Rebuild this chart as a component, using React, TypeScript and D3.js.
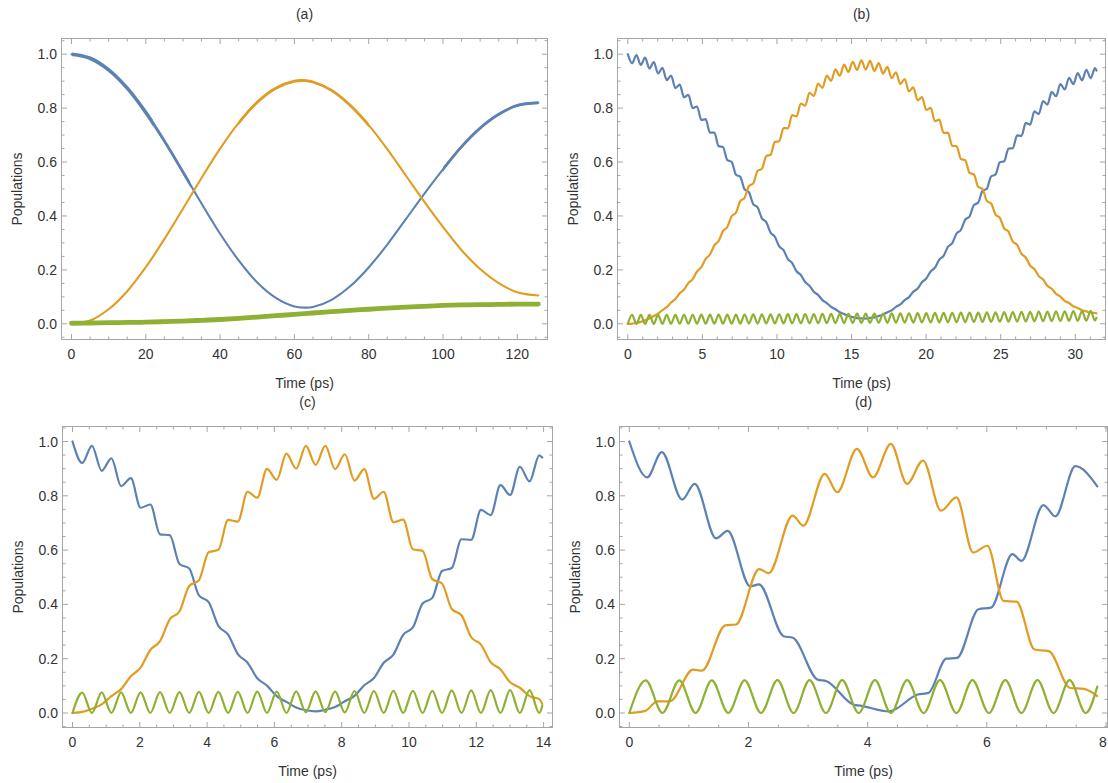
import React from "react";
import * as d3 from "d3";

const BLUE = "#5E81B5";
const ORANGE = "#E19C24";
const GREEN = "#8FB032";
const FONT = '"Liberation Sans", Arial, Helvetica, sans-serif';

// ---------- Panel (a) ----------
const tA = [0, 5, 10, 15, 20, 25, 30, 35, 40, 45, 50, 55, 60, 62.83, 65, 70, 75, 80, 85, 90, 95, 100, 105, 110, 115, 120, 125.66];
const blueA = [1.0, 0.985, 0.942, 0.874, 0.784, 0.678, 0.563, 0.446, 0.334, 0.235, 0.153, 0.096, 0.064, 0.06, 0.062, 0.089, 0.139, 0.209, 0.294, 0.388, 0.483, 0.573, 0.657, 0.726, 0.777, 0.81, 0.82];
const orangeA = [0, 0.012, 0.054, 0.121, 0.21, 0.314, 0.427, 0.541, 0.65, 0.745, 0.822, 0.874, 0.9, 0.902, 0.897, 0.866, 0.811, 0.737, 0.648, 0.55, 0.452, 0.359, 0.273, 0.203, 0.151, 0.117, 0.105];
const greenA = [0.002, 0.003, 0.004, 0.005, 0.006, 0.008, 0.01, 0.013, 0.016, 0.02, 0.025, 0.03, 0.035, 0.038, 0.04, 0.045, 0.05, 0.054, 0.058, 0.062, 0.065, 0.068, 0.07, 0.071, 0.072, 0.073, 0.073];

// ---------- Panel (b) ----------
const tB = [0, 0.29, 0.58, 0.87, 1.16, 1.45, 1.74, 2.03, 2.32, 2.61, 2.9, 3.19, 3.48, 3.77, 4.06, 4.35, 4.64, 4.93, 5.22, 5.51, 5.8, 6.09, 6.38, 6.67, 6.96, 7.25, 7.54, 7.83, 8.12, 8.41, 8.7, 8.99, 9.28, 9.57, 9.86, 10.15, 10.44, 10.73, 11.02, 11.31, 11.6, 11.89, 12.18, 12.47, 12.76, 13.05, 13.34, 13.63, 13.92, 14.21, 14.5, 14.79, 15.08, 15.37, 15.66, 15.95, 16.24, 16.53, 16.82, 17.11, 17.4, 17.69, 17.98, 18.27, 18.56, 18.85, 19.14, 19.43, 19.72, 20.01, 20.3, 20.59, 20.88, 21.17, 21.46, 21.75, 22.04, 22.33, 22.62, 22.91, 23.2, 23.49, 23.78, 24.07, 24.36, 24.65, 24.94, 25.23, 25.52, 25.81, 26.1, 26.39, 26.68, 26.97, 27.26, 27.55, 27.84, 28.13, 28.42, 28.71, 29.0, 29.29, 29.58, 29.87, 30.16, 30.45, 30.74, 31.03, 31.32, 31.42];
const blueB = [1.0, 0.966, 0.997, 0.96, 0.987, 0.947, 0.971, 0.929, 0.949, 0.904, 0.921, 0.874, 0.887, 0.84, 0.849, 0.8, 0.806, 0.756, 0.759, 0.709, 0.709, 0.659, 0.656, 0.607, 0.601, 0.553, 0.545, 0.499, 0.488, 0.444, 0.432, 0.391, 0.377, 0.338, 0.323, 0.287, 0.273, 0.24, 0.225, 0.195, 0.181, 0.155, 0.141, 0.119, 0.107, 0.088, 0.077, 0.063, 0.054, 0.043, 0.036, 0.029, 0.025, 0.021, 0.02, 0.019, 0.022, 0.024, 0.029, 0.034, 0.043, 0.05, 0.063, 0.072, 0.088, 0.099, 0.119, 0.131, 0.154, 0.168, 0.194, 0.208, 0.238, 0.252, 0.285, 0.299, 0.335, 0.348, 0.386, 0.398, 0.44, 0.45, 0.493, 0.501, 0.547, 0.553, 0.599, 0.603, 0.65, 0.651, 0.699, 0.697, 0.745, 0.739, 0.788, 0.778, 0.826, 0.813, 0.86, 0.844, 0.889, 0.869, 0.912, 0.889, 0.93, 0.903, 0.942, 0.911, 0.948, 0.939];
const orangeB = [0, 0.001, 0.003, 0.007, 0.013, 0.02, 0.029, 0.038, 0.051, 0.062, 0.079, 0.092, 0.113, 0.127, 0.151, 0.166, 0.194, 0.21, 0.241, 0.257, 0.291, 0.307, 0.344, 0.359, 0.399, 0.412, 0.455, 0.467, 0.511, 0.521, 0.567, 0.575, 0.622, 0.627, 0.675, 0.677, 0.726, 0.725, 0.774, 0.769, 0.817, 0.809, 0.857, 0.845, 0.891, 0.875, 0.921, 0.901, 0.944, 0.92, 0.961, 0.934, 0.972, 0.942, 0.977, 0.943, 0.975, 0.938, 0.967, 0.928, 0.953, 0.911, 0.933, 0.889, 0.908, 0.862, 0.877, 0.829, 0.841, 0.793, 0.801, 0.752, 0.757, 0.708, 0.709, 0.66, 0.659, 0.611, 0.607, 0.56, 0.554, 0.508, 0.5, 0.456, 0.446, 0.405, 0.393, 0.354, 0.342, 0.305, 0.293, 0.259, 0.246, 0.216, 0.203, 0.177, 0.164, 0.141, 0.13, 0.111, 0.101, 0.085, 0.077, 0.065, 0.059, 0.05, 0.046, 0.041, 0.04, 0.039];
const greenB = [0, 0.033, 0, 0.0331, 0, 0.0331, 0, 0.0332, 0.0001, 0.0333, 0.0001, 0.0334, 0.0001, 0.0335, 0.0002, 0.0336, 0.0003, 0.0338, 0.0003, 0.0339, 0.0004, 0.034, 0.0005, 0.0341, 0.0006, 0.0343, 0.0007, 0.0345, 0.0008, 0.0347, 0.0009, 0.0349, 0.0011, 0.0351, 0.0012, 0.0354, 0.0013, 0.0356, 0.0015, 0.0358, 0.0016, 0.0361, 0.0018, 0.0363, 0.002, 0.0365, 0.0022, 0.0368, 0.0024, 0.037, 0.0026, 0.0372, 0.0028, 0.0375, 0.003, 0.0376, 0.0032, 0.0379, 0.0035, 0.0382, 0.0037, 0.0385, 0.004, 0.0388, 0.0042, 0.0392, 0.0045, 0.0395, 0.0048, 0.0398, 0.005, 0.0402, 0.0053, 0.0405, 0.0056, 0.0409, 0.0059, 0.0412, 0.0063, 0.0416, 0.0066, 0.042, 0.0069, 0.0424, 0.0073, 0.0428, 0.0076, 0.0432, 0.008, 0.0436, 0.0083, 0.0441, 0.0087, 0.0445, 0.0091, 0.0449, 0.0095, 0.0454, 0.0099, 0.0458, 0.0103, 0.0463, 0.0107, 0.0468, 0.0111, 0.0473, 0.0116, 0.0478, 0.012, 0.022];

// ---------- Panel (c) ----------
const tC = [0, 0.289, 0.578, 0.867, 1.156, 1.445, 1.734, 2.023, 2.312, 2.601, 2.89, 3.179, 3.468, 3.757, 4.046, 4.335, 4.624, 4.913, 5.202, 5.491, 5.78, 6.069, 6.358, 6.647, 6.936, 7.225, 7.514, 7.803, 8.092, 8.381, 8.67, 8.959, 9.248, 9.537, 9.826, 10.115, 10.404, 10.693, 10.982, 11.271, 11.56, 11.849, 12.138, 12.427, 12.716, 13.005, 13.294, 13.583, 13.872, 13.96];
const blueC = [1.0, 0.921, 0.984, 0.892, 0.938, 0.836, 0.865, 0.756, 0.768, 0.658, 0.655, 0.549, 0.532, 0.433, 0.408, 0.321, 0.289, 0.217, 0.185, 0.128, 0.101, 0.062, 0.041, 0.02, 0.01, 0.006, 0.012, 0.022, 0.043, 0.063, 0.102, 0.129, 0.185, 0.215, 0.288, 0.315, 0.403, 0.424, 0.523, 0.534, 0.64, 0.638, 0.748, 0.729, 0.839, 0.803, 0.907, 0.853, 0.949, 0.941];
const orangeC = [0, 0.004, 0.016, 0.032, 0.062, 0.088, 0.135, 0.167, 0.232, 0.265, 0.345, 0.374, 0.468, 0.489, 0.592, 0.601, 0.711, 0.705, 0.815, 0.793, 0.899, 0.859, 0.955, 0.9, 0.984, 0.914, 0.984, 0.898, 0.953, 0.856, 0.898, 0.789, 0.815, 0.703, 0.712, 0.603, 0.597, 0.493, 0.477, 0.383, 0.36, 0.279, 0.252, 0.187, 0.161, 0.113, 0.093, 0.062, 0.051, 0.033];
const greenC = [0, 0.075, 0, 0.076, 0, 0.076, 0, 0.076, 0, 0.077, 0, 0.077, 0, 0.078, 0, 0.078, 0, 0.078, 0, 0.079, 0, 0.079, 0, 0.08, 0.003, 0.08, 0.003, 0.08, 0.002, 0.081, 0, 0.081, 0, 0.082, 0, 0.082, 0, 0.082, 0, 0.083, 0, 0.083, 0, 0.084, 0, 0.084, 0, 0.084, 0, 0.026];

// ---------- Panel (d) ----------
const tBlueD = [0, 0.3, 0.545, 0.887, 1.097, 1.456, 1.65, 2.03, 2.175, 2.59, 2.745, 3.16, 3.31, 3.76, 3.88, 4.36, 4.84, 5.02, 5.32, 5.5, 5.86, 6.07, 6.43, 6.58, 6.95, 7.15, 7.485, 7.854];
const blueD = [1.0, 0.868, 0.961, 0.786, 0.844, 0.643, 0.671, 0.466, 0.474, 0.283, 0.277, 0.123, 0.117, 0.031, 0.027, 0.006, 0.068, 0.074, 0.2, 0.203, 0.382, 0.388, 0.585, 0.56, 0.766, 0.724, 0.909, 0.835];
const tOrangeD = [0, 0.27, 0.47, 0.68, 1.07, 1.22, 1.61, 1.79, 2.18, 2.34, 2.74, 2.92, 3.28, 3.49, 3.82, 4.09, 4.39, 4.66, 4.93, 5.23, 5.49, 5.77, 6.01, 6.28, 6.5, 6.8, 7.04, 7.4, 7.63, 7.854];
const orangeD = [0, 0.008, 0.043, 0.043, 0.16, 0.156, 0.323, 0.326, 0.53, 0.515, 0.727, 0.69, 0.881, 0.813, 0.973, 0.868, 0.991, 0.844, 0.93, 0.745, 0.794, 0.591, 0.616, 0.413, 0.41, 0.234, 0.228, 0.092, 0.089, 0.062];
const tGreenD = [0, 0.276, 0.557, 0.839, 1.112, 1.385, 1.66, 1.936, 2.21, 2.487, 2.757, 3.026, 3.3, 3.572, 3.85, 4.123, 4.39, 4.663, 4.94, 5.214, 5.49, 5.759, 6.035, 6.311, 6.58, 6.85, 7.12, 7.39, 7.66, 7.854];
const greenD = [0, 0.12, 0, 0.12, 0, 0.12, 0, 0.12, 0, 0.121, 0, 0.121, 0, 0.121, 0, 0.121, 0, 0.121, 0, 0.121, 0, 0.121, 0, 0.121, 0, 0.121, 0, 0.121, 0, 0.097];

// ---------- Axis ticks ----------
const yMajor = [0, 0.2, 0.4, 0.6, 0.8, 1.0];
const xMajorA = [0, 20, 40, 60, 80, 100, 120];
const xMajorB = [0, 5, 10, 15, 20, 25, 30];
const xMajorC = [0, 2, 4, 6, 8, 10, 12, 14];
const xMajorD = [0, 2, 4, 6, 8];

type Curve = "monotone" | "catmull";
interface Series {
  t: number[]; v: number[]; color: string; width: number; curve: Curve;
  fuzz?: { from: number; to: number; width: number }[];
}
interface PanelCfg {
  id: string;
  title: string;
  frame: [number, number, number, number]; // left, top, right, bottom
  xDom: [number, number];
  xPix: [number, number];
  yPix: [number, number]; // pixel for y=0, y=1
  xMajor: number[];
  xMinorStep: number;
  series: Series[];
}

const panels: PanelCfg[] = [
  {
    id: "a", title: "(a)", frame: [61.5, 38.5, 547.5, 339.5],
    xDom: [0, 120], xPix: [71.5, 517.3], yPix: [323.8, 54.2],
    xMajor: xMajorA, xMinorStep: 5,
    series: [
      { t: tA, v: blueA, color: BLUE, width: 2.1, curve: "catmull", fuzz: [{ from: 0, to: 22, width: 3.6 }, { from: 22, to: 32, width: 2.8 }, { from: 100, to: 126, width: 2.8 }] },
      { t: tA, v: orangeA, color: ORANGE, width: 2.1, curve: "catmull", fuzz: [{ from: 45, to: 80, width: 2.8 }] },
      { t: tA, v: greenA, color: GREEN, width: 4.8, curve: "catmull" },
    ],
  },
  {
    id: "b", title: "(b)", frame: [617.5, 38.5, 1105.5, 339.5],
    xDom: [0, 30], xPix: [627.8, 1075.3], yPix: [323.8, 54.2],
    xMajor: xMajorB, xMinorStep: 1,
    series: [
      { t: tB, v: blueB, color: BLUE, width: 2.2, curve: "monotone" },
      { t: tB, v: orangeB, color: ORANGE, width: 2.2, curve: "monotone" },
      { t: tB, v: greenB, color: GREEN, width: 2.2, curve: "monotone" },
    ],
  },
  {
    id: "c", title: "(c)", frame: [62.5, 426.5, 552.5, 727.5],
    xDom: [0, 14], xPix: [72.5, 543.6], yPix: [713, 441.5],
    xMajor: xMajorC, xMinorStep: 0.5,
    series: [
      { t: tC, v: blueC, color: BLUE, width: 2.2, curve: "monotone" },
      { t: tC, v: orangeC, color: ORANGE, width: 2.2, curve: "monotone" },
      { t: tC, v: greenC, color: GREEN, width: 2.2, curve: "monotone" },
    ],
  },
  {
    id: "d", title: "(d)", frame: [619.5, 426.5, 1107.5, 727.5],
    xDom: [0, 8], xPix: [629.3, 1106], yPix: [713, 441.5],
    xMajor: xMajorD, xMinorStep: 0.5,
    series: [
      { t: tBlueD, v: blueD, color: BLUE, width: 2.2, curve: "monotone" },
      { t: tOrangeD, v: orangeD, color: ORANGE, width: 2.2, curve: "monotone" },
      { t: tGreenD, v: greenD, color: GREEN, width: 2.2, curve: "monotone" },
    ],
  },
];

const FRAME_COLOR = "#a6a6a6";
const TEXT_COLOR = "#333333";
const MAJOR = 5.5;
const MINOR = 3;
const PAGE_W = 1108;

function Panel({ cfg }: { cfg: PanelCfg }) {
  const [L, T, R, B] = cfg.frame;
  const x = d3.scaleLinear().domain(cfg.xDom).range(cfg.xPix);
  const y = d3.scaleLinear().domain([0, 1]).range(cfg.yPix);
  const xLo = x.invert(L), xHi = x.invert(R);
  const yLo = y.invert(B), yHi = y.invert(T);
  const xMinor = d3.range(Math.ceil(xLo / cfg.xMinorStep), Math.floor(xHi / cfg.xMinorStep) + 1)
    .map((i) => i * cfg.xMinorStep)
    .filter((v) => !cfg.xMajor.some((m) => Math.abs(m - v) < 1e-9));
  const yMinor = d3.range(Math.ceil(yLo / 0.05), Math.floor(yHi / 0.05) + 1)
    .map((i) => i * 0.05)
    .filter((v) => !yMajor.some((m) => Math.abs(m - v) < 1e-9));
  const makeLine = (c: Curve) =>
    d3.line<[number, number]>()
      .x((d) => x(d[0]))
      .y((d) => y(d[1]))
      .curve(c === "monotone" ? d3.curveMonotoneX : d3.curveCatmullRom.alpha(0.5));
  const cx = (L + R) / 2;
  const cy = (T + B) / 2;
  const clip = `clip-${cfg.id}`;
  return (
    <g>
      <defs>
        <clipPath id={clip}>
          <rect x={L} y={T} width={R - L} height={B - T} />
        </clipPath>
        {cfg.series.map((s, i) =>
          (s.fuzz || []).map((f, j) => (
            <clipPath key={`${i}-${j}`} id={`${clip}-f${i}-${j}`}>
              <rect x={x(f.from)} y={T} width={x(f.to) - x(f.from)} height={B - T} />
            </clipPath>
          ))
        )}
      </defs>
      <g clipPath={`url(#${clip})`}>
        {cfg.series.map((s, i) => {
          const d = makeLine(s.curve)(s.t.map((tt, j) => [tt, s.v[j]] as [number, number])) || "";
          return (
            <g key={i}>
              <path d={d} fill="none" stroke={s.color} strokeWidth={s.width} strokeLinejoin="round" strokeLinecap="round" />
              {(s.fuzz || []).map((f, j) => (
                <path key={j} d={d} fill="none" stroke={s.color} strokeWidth={f.width} strokeLinejoin="round"
                  clipPath={`url(#${clip}-f${i}-${j})`} />
              ))}
            </g>
          );
        })}
      </g>
      <rect x={L} y={T} width={R - L} height={B - T} fill="none" stroke={FRAME_COLOR} strokeWidth={1} />
      {cfg.xMajor.filter((v) => v >= xLo && v <= xHi).map((v) => (
        <g key={`xm${v}`}>
          <line x1={x(v)} x2={x(v)} y1={B} y2={B - MAJOR} stroke={FRAME_COLOR} />
          <line x1={x(v)} x2={x(v)} y1={T} y2={T + MAJOR} stroke={FRAME_COLOR} />
          <text x={Math.min(x(v), PAGE_W - 5)} y={B + 19} textAnchor="middle" fontSize={14} fill={TEXT_COLOR} fontFamily={FONT}>{String(v)}</text>
        </g>
      ))}
      {xMinor.map((v) => (
        <g key={`xn${v}`}>
          <line x1={x(v)} x2={x(v)} y1={B} y2={B - MINOR} stroke={FRAME_COLOR} />
          <line x1={x(v)} x2={x(v)} y1={T} y2={T + MINOR} stroke={FRAME_COLOR} />
        </g>
      ))}
      {yMajor.map((v) => (
        <g key={`ym${v}`}>
          <line x1={L} x2={L + MAJOR} y1={y(v)} y2={y(v)} stroke={FRAME_COLOR} />
          <line x1={R} x2={R - MAJOR} y1={y(v)} y2={y(v)} stroke={FRAME_COLOR} />
          <text x={L - 4.5} y={y(v) + 5} textAnchor="end" fontSize={14} fill={TEXT_COLOR} fontFamily={FONT}>{v.toFixed(1)}</text>
        </g>
      ))}
      {yMinor.map((v) => (
        <g key={`yn${v}`}>
          <line x1={L} x2={L + MINOR} y1={y(v)} y2={y(v)} stroke={FRAME_COLOR} />
          <line x1={R} x2={R - MINOR} y1={y(v)} y2={y(v)} stroke={FRAME_COLOR} />
        </g>
      ))}
      <text x={cx} y={T - 20} textAnchor="middle" fontSize={14} fill={TEXT_COLOR} fontFamily={FONT}>{cfg.title}</text>
      <text x={cx} y={B + 48} textAnchor="middle" fontSize={14} fill={TEXT_COLOR} fontFamily={FONT}>Time (ps)</text>
      <text
        transform={`translate(${L - 39.5},${cy}) rotate(-90)`}
        textAnchor="middle"
        fontSize={14}
        fill={TEXT_COLOR}
        fontFamily={FONT}
      >Populations</text>
    </g>
  );
}

export default function App() {
  return (
    <svg
      width={1108}
      height={783}
      viewBox="0 0 1108 783"
      style={{ position: "absolute", left: 0, top: 0, background: "#ffffff" }}
    >
      <rect x={0} y={0} width={1108} height={783} fill="#ffffff" />
      {panels.map((p) => (
        <Panel key={p.id} cfg={p} />
      ))}
    </svg>
  );
}
